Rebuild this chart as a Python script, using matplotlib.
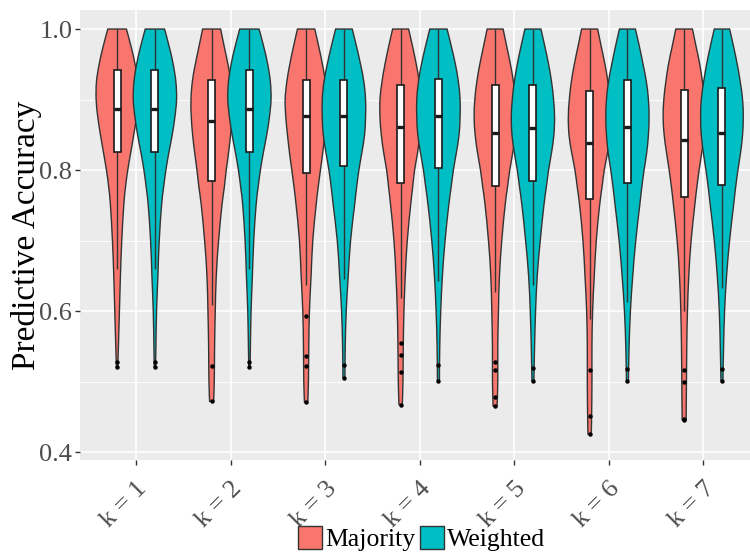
import matplotlib
matplotlib.use("Agg")
import matplotlib.pyplot as plt
from matplotlib.path import Path
from matplotlib.patches import PathPatch, Patch
import numpy as np

# ---------------- data ----------------
k_labels = ["k = 1", "k = 2", "k = 3", "k = 4", "k = 5", "k = 6", "k = 7"]
series_names = ["Majority", "Weighted"]
series_colors = ["#F8766D", "#00BFC4"]

maj_q3 = [0.942, 0.927, 0.927, 0.920, 0.921, 0.912, 0.913]
maj_med = [0.887, 0.869, 0.876, 0.861, 0.852, 0.839, 0.843]
maj_q1 = [0.825, 0.785, 0.796, 0.781, 0.777, 0.759, 0.762]
maj_lo = [0.660, 0.608, 0.637, 0.618, 0.627, 0.589, 0.600]
maj_hi = [1.0, 1.0, 1.0, 1.0, 1.0, 1.0, 1.0]
maj_out = [[0.527, 0.520], [0.522, 0.472], [0.593, 0.536, 0.522, 0.471],
           [0.554, 0.538, 0.514, 0.467], [0.527, 0.517, 0.478, 0.465],
           [0.516, 0.451, 0.425], [0.517, 0.500, 0.447, 0.446]]

wei_q3 = [0.942, 0.942, 0.927, 0.929, 0.921, 0.927, 0.917]
wei_med = [0.887, 0.887, 0.877, 0.876, 0.859, 0.861, 0.853]
wei_q1 = [0.825, 0.825, 0.806, 0.803, 0.784, 0.782, 0.779]
wei_lo = [0.660, 0.660, 0.645, 0.643, 0.637, 0.613, 0.633]
wei_hi = [1.0, 1.0, 1.0, 1.0, 1.0, 1.0, 1.0]
wei_out = [[0.527, 0.520], [0.527, 0.520], [0.523, 0.505], [0.523, 0.501],
           [0.519, 0.501], [0.518, 0.501], [0.518, 0.501]]

# violin outline: relative half-widths (max = 65) read at these accuracy levels
violin_levels = [1.0, 0.975, 0.95, 0.925, 0.9, 0.875, 0.85, 0.825, 0.8,
                 0.775, 0.75, 0.7, 0.65, 0.6, 0.55, 0.5, 0.45]
maj_width = [
    [28, 42, 54, 62, 63, 58, 50, 41, 32, 25, 20, 14, 10, 7, 4],
    [27, 38, 49, 58, 62, 61, 57, 51, 44, 38, 31, 21, 14, 11, 9, 8],
    [26, 38, 49, 58, 63, 61, 56, 50, 43, 36, 30, 20, 15, 10, 8, 7],
    [24, 36, 47, 56, 62, 62, 58, 51, 42, 36, 30, 20, 14, 10, 8, 7],
    [24, 35, 46, 55, 61, 63, 60, 53, 44, 37, 30, 20, 13, 10, 8, 8],
    [24, 35, 46, 55, 61, 64, 62, 54, 44, 37, 30, 20, 14, 9, 7, 7, 6],
    [25, 36, 47, 55, 61, 63, 60, 53, 45, 38, 32, 21, 14, 10, 8, 7, 6],
]
maj_end = [(0.520, 2), (0.472, 6), (0.471, 5), (0.467, 5), (0.465, 6), (0.425, 5), (0.446, 5)]
wei_width = [
    [29, 43, 55, 63, 65, 60, 52, 42, 33, 26, 20, 13, 9, 5, 3],
    [29, 43, 55, 63, 65, 60, 52, 42, 33, 26, 20, 13, 9, 5, 3],
    [25, 38, 50, 60, 65, 65, 62, 54, 45, 38, 32, 20, 13, 7, 4],
    [26, 39, 51, 60, 65, 65, 62, 54, 45, 38, 31, 20, 12, 7, 4],
    [24, 36, 47, 56, 62, 65, 63, 56, 47, 40, 33, 22, 13, 8, 5],
    [24, 36, 47, 57, 63, 65, 63, 58, 50, 43, 37, 25, 16, 9, 5],
    [23, 35, 46, 55, 62, 64, 62, 56, 48, 41, 35, 23, 14, 8, 5],
]
wei_end = [(0.520, 2), (0.520, 2), (0.505, 3), (0.501, 3), (0.501, 3), (0.501, 3), (0.501, 3)]

# ---------------- style ----------------
SERIF = ["Liberation Serif", "DejaVu Serif"]
plt.rcParams["font.family"] = SERIF
EDGE = "#333333"
DODGE = 0.2
MAXW = 0.229
BOXW = 0.074


def smooth_path(pts):
    """Catmull-Rom through pts -> cubic bezier vertices/codes (without initial MOVETO)."""
    pts = np.asarray(pts, float)
    n = len(pts)
    verts, codes = [], []
    for i in range(n - 1):
        p0 = pts[i - 1] if i > 0 else pts[i]
        p1 = pts[i]
        p2 = pts[i + 1]
        p3 = pts[i + 2] if i + 2 < n else pts[i + 1]
        c1 = p1 + (p2 - p0) / 6.0
        c2 = p2 - (p3 - p1) / 6.0
        verts += [c1, c2, p2]
        codes += [Path.CURVE4] * 3
    return verts, codes


def draw_violin(ax, xc, widths, end, color):
    ys = list(violin_levels[:len(widths)]) + [end[0]]
    ws = [w / 65.0 * MAXW for w in widths] + [end[1] / 65.0 * MAXW]
    right = [(xc + w, y) for w, y in zip(ws, ys)]
    left = [(xc - w, y) for w, y in zip(ws, ys)][::-1]
    verts = [right[0]]
    codes = [Path.MOVETO]
    v, c = smooth_path(right)
    verts += v; codes += c
    verts.append(left[0]); codes.append(Path.LINETO)
    v, c = smooth_path(left)
    verts += v; codes += c
    verts.append(right[0]); codes.append(Path.CLOSEPOLY)
    patch = PathPatch(Path(verts, codes), facecolor=color, edgecolor=EDGE,
                      linewidth=1.0, zorder=3)
    ax.add_patch(patch)


def draw_box(ax, xc, q1, med, q3, lo, hi, outs):
    ax.plot([xc, xc], [q3, hi], color=EDGE, lw=1.0, zorder=4, solid_capstyle="butt")
    ax.plot([xc, xc], [lo, q1], color=EDGE, lw=1.0, zorder=4, solid_capstyle="butt")
    ax.add_patch(plt.Rectangle((xc - BOXW / 2, q1), BOXW, q3 - q1, facecolor="white",
                               edgecolor="#1a1a1a", lw=1.2, zorder=5))
    ax.plot([xc - BOXW / 2, xc + BOXW / 2], [med, med], color="#1a1a1a", lw=2.4,
            zorder=6, solid_capstyle="butt")
    ax.plot([xc] * len(outs), outs, "o", color="black", ms=3.2, zorder=6,
            markeredgewidth=0)


fig = plt.figure(figsize=(7.5, 5.58), dpi=100)
ax = fig.add_axes([80 / 750, 98 / 558, 670 / 750, 450 / 558])
ax.set_facecolor("#EBEBEB")
for s in ax.spines.values():
    s.set_visible(False)

ax.set_xlim(0.4074, 7.497)
ax.set_ylim(0.3887, 1.027)

ax.set_yticks([0.4, 0.6, 0.8, 1.0])
ax.set_yticklabels(["0.4", "0.6", "0.8", "1.0"])
ax.set_yticks([0.5, 0.7, 0.9], minor=True)
ax.set_xticks(range(1, 8))
ax.set_xticklabels(k_labels, rotation=45, ha="right", va="top",
                   rotation_mode="anchor")
ax.grid(which="major", color="white", lw=1.2, zorder=0)
ax.grid(which="minor", axis="y", color="white", lw=0.6, zorder=0)
ax.set_axisbelow(True)
ax.tick_params(axis="both", which="major", length=3.5, width=1.0, color="#333333",
               labelsize=19, labelcolor="#4D4D4D", pad=2)
ax.tick_params(axis="x", which="major", pad=9)
ax.tick_params(axis="y", which="minor", length=0)
ax.set_ylabel("Predictive Accuracy", fontsize=24, color="black", labelpad=-2)

for i in range(7):
    x = i + 1
    draw_violin(ax, x - DODGE, maj_width[i], maj_end[i], series_colors[0])
    draw_violin(ax, x + DODGE, wei_width[i], wei_end[i], series_colors[1])
    draw_box(ax, x - DODGE, maj_q1[i], maj_med[i], maj_q3[i], maj_lo[i], maj_hi[i], maj_out[i])
    draw_box(ax, x + DODGE, wei_q1[i], wei_med[i], wei_q3[i], wei_lo[i], wei_hi[i], wei_out[i])

handles = [Patch(facecolor=c, edgecolor=EDGE, lw=1.0, label=n)
           for c, n in zip(series_colors, series_names)]
fig.legend(handles=handles, loc="center", bbox_to_anchor=(0.562, 0.035), ncol=2,
           frameon=False, fontsize=18.5, handlelength=0.95, handleheight=1.0,
           handletextpad=0.1, columnspacing=0.2, borderaxespad=0)

fig.savefig("out.png", dpi=100)
